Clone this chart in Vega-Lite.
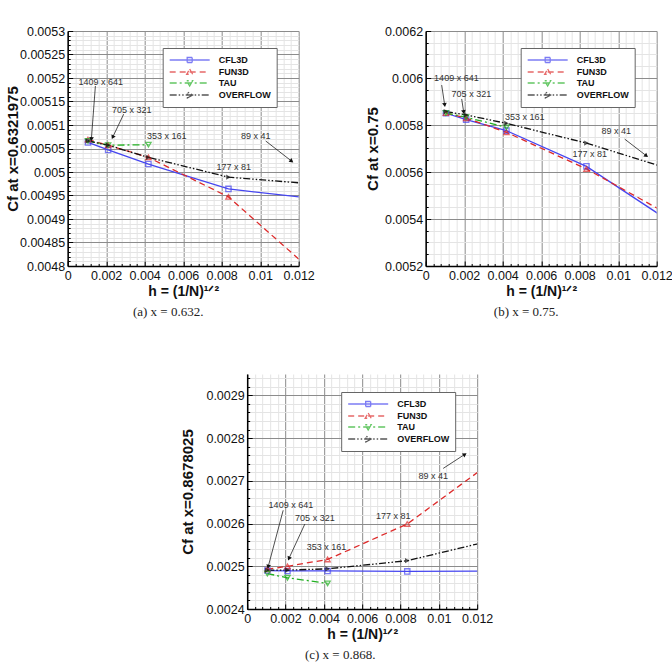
{
"$schema": "https://vega.github.io/schema/vega-lite/v6.json",
"background": "white",
"padding": {"left": 5.5, "top": 25, "right": 0, "bottom": 0},
"datasets": {
"cf": [
{"p":"a","code":"CFL3D","h":0.001052,"cf":0.005063},{"p":"a","code":"CFL3D","h":0.002102,"cf":0.005047},{"p":"a","code":"CFL3D","h":0.004195,"cf":0.005017},{"p":"a","code":"CFL3D","h":0.008352,"cf":0.004964},{"p":"a","code":"CFL3D","h":0.016554,"cf":0.004926},
{"p":"a","code":"FUN3D","h":0.001052,"cf":0.005069},{"p":"a","code":"FUN3D","h":0.002102,"cf":0.005057},{"p":"a","code":"FUN3D","h":0.004195,"cf":0.005031},{"p":"a","code":"FUN3D","h":0.008352,"cf":0.004947},{"p":"a","code":"FUN3D","h":0.016554,"cf":0.00465},
{"p":"a","code":"TAU","h":0.001052,"cf":0.005066},{"p":"a","code":"TAU","h":0.002102,"cf":0.005057},{"p":"a","code":"TAU","h":0.004195,"cf":0.005058},
{"p":"a","code":"OVERFLOW","h":0.001052,"cf":0.005066},{"p":"a","code":"OVERFLOW","h":0.002102,"cf":0.005057},{"p":"a","code":"OVERFLOW","h":0.004195,"cf":0.005031},{"p":"a","code":"OVERFLOW","h":0.008352,"cf":0.004989},{"p":"a","code":"OVERFLOW","h":0.016554,"cf":0.004962},
{"p":"b","code":"CFL3D","h":0.001052,"cf":0.00585},{"p":"b","code":"CFL3D","h":0.002102,"cf":0.005823},{"p":"b","code":"CFL3D","h":0.004195,"cf":0.005776},{"p":"b","code":"CFL3D","h":0.008352,"cf":0.005624},{"p":"b","code":"CFL3D","h":0.016554,"cf":0.005181},
{"p":"b","code":"FUN3D","h":0.001052,"cf":0.005851},{"p":"b","code":"FUN3D","h":0.002102,"cf":0.005829},{"p":"b","code":"FUN3D","h":0.004195,"cf":0.005769},{"p":"b","code":"FUN3D","h":0.008352,"cf":0.005613},{"p":"b","code":"FUN3D","h":0.016554,"cf":0.00524},
{"p":"b","code":"TAU","h":0.001052,"cf":0.005851},{"p":"b","code":"TAU","h":0.002102,"cf":0.005833},{"p":"b","code":"TAU","h":0.004195,"cf":0.00579},
{"p":"b","code":"OVERFLOW","h":0.001052,"cf":0.005857},{"p":"b","code":"OVERFLOW","h":0.002102,"cf":0.005843},{"p":"b","code":"OVERFLOW","h":0.004195,"cf":0.005807},{"p":"b","code":"OVERFLOW","h":0.008352,"cf":0.005723},{"p":"b","code":"OVERFLOW","h":0.016554,"cf":0.005514},
{"p":"c","code":"CFL3D","h":0.001052,"cf":0.00249},{"p":"c","code":"CFL3D","h":0.002102,"cf":0.002489},{"p":"c","code":"CFL3D","h":0.004195,"cf":0.002489},{"p":"c","code":"CFL3D","h":0.008352,"cf":0.002488},{"p":"c","code":"CFL3D","h":0.016554,"cf":0.002489},
{"p":"c","code":"FUN3D","h":0.001052,"cf":0.002493},{"p":"c","code":"FUN3D","h":0.002102,"cf":0.0025},{"p":"c","code":"FUN3D","h":0.004195,"cf":0.002516},{"p":"c","code":"FUN3D","h":0.008352,"cf":0.002599},{"p":"c","code":"FUN3D","h":0.016554,"cf":0.002869},
{"p":"c","code":"TAU","h":0.001052,"cf":0.002483},{"p":"c","code":"TAU","h":0.002102,"cf":0.002473},{"p":"c","code":"TAU","h":0.004195,"cf":0.00246},
{"p":"c","code":"OVERFLOW","h":0.001052,"cf":0.002491},{"p":"c","code":"OVERFLOW","h":0.002102,"cf":0.002491},{"p":"c","code":"OVERFLOW","h":0.004195,"cf":0.002494},{"p":"c","code":"OVERFLOW","h":0.008352,"cf":0.002513},{"p":"c","code":"OVERFLOW","h":0.016554,"cf":0.002601}
],
"ann": [
{"p":"a","t":"1409 x 641","h":0.001714,"cf":0.005191},{"p":"a","t":"705 x 321","h":0.003325,"cf":0.005132},{"p":"a","t":"353 x 161","h":0.005143,"cf":0.005077},{"p":"a","t":"89 x 41","h":0.009766,"cf":0.005077},{"p":"a","t":"177 x 81","h":0.008623,"cf":0.005011},
{"p":"b","t":"1409 x 641","h":0.001595,"cf":0.0060},{"p":"b","t":"705 x 321","h":0.002374,"cf":0.005932},{"p":"b","t":"353 x 161","h":0.005143,"cf":0.005834},{"p":"b","t":"89 x 41","h":0.009906,"cf":0.005774},{"p":"b","t":"177 x 81","h":0.00852,"cf":0.005677},
{"p":"c","t":"1409 x 641","h":0.00228,"cf":0.002643},{"p":"c","t":"705 x 321","h":0.003532,"cf":0.002612},{"p":"c","t":"353 x 161","h":0.004137,"cf":0.002544},{"p":"c","t":"177 x 81","h":0.007617,"cf":0.002618},{"p":"c","t":"89 x 41","h":0.009704,"cf":0.002711}
],
"arr": [
{"p":"a","h":0.001231,"cf":0.00507,"h2":0.001439,"cf2":0.005183},{"p":"a","h":0.002338,"cf":0.005074,"h2":0.002909,"cf2":0.005123},{"p":"a","h":0.011636,"cf":0.005023,"h2":0.010286,"cf2":0.005066},
{"p":"b","h":0.000987,"cf":0.005885,"h2":0.000831,"cf2":0.00597},{"p":"b","h":0.001974,"cf":0.005855,"h2":0.00187,"cf2":0.005911},{"p":"b","h":0.011465,"cf":0.005669,"h2":0.010338,"cf2":0.00574},
{"p":"c","h":0.001096,"cf":0.002499,"h2":0.001878,"cf2":0.002631},{"p":"c","h":0.002176,"cf":0.002518,"h2":0.00301,"cf2":0.002599},{"p":"c","h":0.011358,"cf":0.002762,"h2":0.010226,"cf2":0.002729}
]
},
"resolve": {"scale": {"color": "independent", "strokeDash": "independent", "shape": "independent"}},
"center": true,
"spacing": 53,
"vconcat": [
{
"hconcat": [
{
"width": 231, "height": 235,
"title": {"text": "(a) x = 0.632.", "dx": -15},
"encoding": {
"x": {"field": "h", "type": "quantitative", "scale": {"domain": [0, 0.012]}, "axis": {"values": [0,0.0004,0.0008,0.0012,0.0016,0.002,0.0024,0.0028,0.0032,0.0036,0.004,0.0044,0.0048,0.0052,0.0056,0.006,0.0064,0.0068,0.0072,0.0076,0.008,0.0084,0.0088,0.0092,0.0096,0.01,0.0104,0.0108,0.0112,0.0116,0.012], "title": "h = (1/N)¹ᐟ²", "labelExpr": "abs(datum.value*500-round(datum.value*500))<1e-6 ? format(datum.value,'.3~f') : ''", "gridColor": {"condition": {"test": "abs(datum.value*500-round(datum.value*500))<1e-6", "value": "#8c8c8c"}, "value": "#e4e4e4"}, "tickSize": {"condition": {"test": "abs(datum.value*500-round(datum.value*500))<1e-6", "value": -5}, "value": -2.5}, "labelPadding": 8, "titlePadding": 0}},
"y": {"field": "cf", "type": "quantitative", "scale": {"domain": [0.0048, 0.0053], "zero": false}, "axis": {"values": [0.0048,0.00481,0.00482,0.00483,0.00484,0.00485,0.00486,0.00487,0.00488,0.00489,0.0049,0.00491,0.00492,0.00493,0.00494,0.00495,0.00496,0.00497,0.00498,0.00499,0.005,0.00501,0.00502,0.00503,0.00504,0.00505,0.00506,0.00507,0.00508,0.00509,0.0051,0.00511,0.00512,0.00513,0.00514,0.00515,0.00516,0.00517,0.00518,0.00519,0.0052,0.00521,0.00522,0.00523,0.00524,0.00525,0.00526,0.00527,0.00528,0.00529,0.0053], "title": "Cf at x=0.6321975", "labelExpr": "abs(datum.value*20000-round(datum.value*20000))<1e-6 ? format(datum.value,'.5~f') : ''", "gridColor": {"condition": {"test": "abs(datum.value*20000-round(datum.value*20000))<1e-6", "value": "#8c8c8c"}, "value": "#e4e4e4"}, "tickSize": {"condition": {"test": "abs(datum.value*20000-round(datum.value*20000))<1e-6", "value": -5}, "value": -2.5}, "labelPadding": 8, "titlePadding": -1.5}}
},
"layer": [
{"data": {"name": "cf"}, "transform": [{"filter": "datum.p=='a' && datum.code=='CFL3D'"}], "mark": {"type": "line", "clip": true, "strokeWidth": 1.3, "color": "#4646f0"}},
{"data": {"name": "cf"}, "transform": [{"filter": "datum.p=='a' && datum.code=='FUN3D'"}], "mark": {"type": "line", "clip": true, "strokeWidth": 1.3, "color": "#dd2a2a", "strokeDash": [6,4]}},
{"data": {"name": "cf"}, "transform": [{"filter": "datum.p=='a' && datum.code=='TAU'"}], "mark": {"type": "line", "clip": true, "strokeWidth": 1.3, "color": "#22b022", "strokeDash": [7,3,2,3]}},
{"data": {"name": "cf"}, "transform": [{"filter": "datum.p=='a' && datum.code=='OVERFLOW'"}], "mark": {"type": "line", "clip": true, "strokeWidth": 1.3, "color": "#111111", "strokeDash": [7,2,1.5,2,1.5,2]}},
{"data": {"name": "cf"}, "transform": [{"filter": "datum.p=='a' && datum.code=='CFL3D'"}], "mark": {"type": "point", "shape": "square", "clip": true, "filled": false, "size": 28, "strokeWidth": 1.3, "color": "#4646f0"}},
{"data": {"name": "cf"}, "transform": [{"filter": "datum.p=='a' && datum.code=='FUN3D'"}], "mark": {"type": "point", "shape": "triangle-up", "clip": true, "filled": false, "size": 28, "strokeWidth": 1.3, "color": "#dd2a2a"}},
{"data": {"name": "cf"}, "transform": [{"filter": "datum.p=='a' && datum.code=='TAU'"}], "mark": {"type": "point", "shape": "triangle-down", "clip": true, "filled": false, "size": 28, "strokeWidth": 1.3, "color": "#22b022"}},
{"data": {"name": "cf"}, "transform": [{"filter": "datum.p=='a' && datum.code=='OVERFLOW'"}], "mark": {"type": "point", "shape": "triangle-right", "clip": true, "filled": true, "size": 28, "strokeWidth": 1.3, "color": "#111111"}},
{"data": {"name": "cf"}, "transform": [{"filter": "datum.p=='a' && datum.h>0.012"}], "mark": {"type": "point", "clip": true, "filled": false, "size": 100, "strokeWidth": 1.3}, "encoding": {
"color": {"field": "code", "type": "nominal", "scale": {"domain": ["CFL3D","FUN3D","TAU","OVERFLOW"], "range": ["#4646f0","#dd2a2a","#22b022","#111111"]}, "legend": {"title": null, "orient": "none", "legendX": 95, "legendY": 17}},
"strokeDash": {"field": "code", "type": "nominal", "scale": {"domain": ["CFL3D","FUN3D","TAU","OVERFLOW"], "range": [[1,0],[6,4],[7,3,2,3],[7,2,1.5,2,1.5,2]]}, "legend": {"title": null, "orient": "none", "legendX": 95, "legendY": 17}},
"shape": {"field": "code", "type": "nominal", "scale": {"domain": ["CFL3D","FUN3D","TAU","OVERFLOW"], "range": ["M-4,0H4M-0.5,-0.5H0.5V0.5H-0.5Z","M-4,0H4M0,-0.6L0.6,0.45H-0.6Z","M-4,0H4M0,0.6L0.6,-0.45H-0.6Z","M-4,0H4M0.6,0L-0.45,0.6V-0.6Z"]}, "legend": {"title": null, "orient": "none", "legendX": 95, "legendY": 17}}}},
{"data": {"name": "arr"}, "transform": [{"filter": "datum.p=='a'"}], "mark": {"type": "rule", "color": "#222", "strokeWidth": 0.8}, "encoding": {"x2": {"field": "h2"}, "y2": {"field": "cf2"}}},
{"data": {"name": "arr"}, "transform": [{"filter": "datum.p=='a'"}, {"calculate": "atan2((datum.h-datum.h2)*19250, (datum.cf-datum.cf2)*470000)*180/PI", "as": "ang"}], "mark": {"type": "point", "shape": "triangle-up", "filled": true, "color": "#111", "size": 22, "opacity": 1}, "encoding": {"angle": {"field": "ang", "type": "quantitative", "scale": null}}},
{"data": {"name": "ann"}, "transform": [{"filter": "datum.p=='a'"}], "mark": {"type": "text", "font": "Liberation Sans", "fontSize": 9, "color": "#333"}, "encoding": {"text": {"field": "t"}}}
]
},
{
"width": 231, "height": 235,
"title": {"text": "(b) x = 0.75.", "dx": -15},
"encoding": {
"x": {"field": "h", "type": "quantitative", "scale": {"domain": [0, 0.012]}, "axis": {"values": [0,0.0004,0.0008,0.0012,0.0016,0.002,0.0024,0.0028,0.0032,0.0036,0.004,0.0044,0.0048,0.0052,0.0056,0.006,0.0064,0.0068,0.0072,0.0076,0.008,0.0084,0.0088,0.0092,0.0096,0.01,0.0104,0.0108,0.0112,0.0116,0.012], "title": "h = (1/N)¹ᐟ²", "labelExpr": "abs(datum.value*500-round(datum.value*500))<1e-6 ? format(datum.value,'.3~f') : ''", "gridColor": {"condition": {"test": "abs(datum.value*500-round(datum.value*500))<1e-6", "value": "#8c8c8c"}, "value": "#e4e4e4"}, "tickSize": {"condition": {"test": "abs(datum.value*500-round(datum.value*500))<1e-6", "value": -5}, "value": -2.5}, "labelPadding": 8, "titlePadding": 0}},
"y": {"field": "cf", "type": "quantitative", "scale": {"domain": [0.0052, 0.0062], "zero": false}, "axis": {"values": [0.0052,0.00525,0.0053,0.00535,0.0054,0.00545,0.0055,0.00555,0.0056,0.00565,0.0057,0.00575,0.0058,0.00585,0.0059,0.00595,0.006,0.00605,0.0061,0.00615,0.0062], "title": "Cf at x=0.75", "labelExpr": "abs(datum.value*5000-round(datum.value*5000))<1e-6 ? format(datum.value,'.4~f') : ''", "gridColor": {"condition": {"test": "abs(datum.value*5000-round(datum.value*5000))<1e-6", "value": "#8c8c8c"}, "value": "#e4e4e4"}, "tickSize": {"condition": {"test": "abs(datum.value*5000-round(datum.value*5000))<1e-6", "value": -5}, "value": -2.5}, "labelPadding": 8, "titlePadding": 4}}
},
"layer": [
{"data": {"name": "cf"}, "transform": [{"filter": "datum.p=='b' && datum.code=='CFL3D'"}], "mark": {"type": "line", "clip": true, "strokeWidth": 1.3, "color": "#4646f0"}},
{"data": {"name": "cf"}, "transform": [{"filter": "datum.p=='b' && datum.code=='FUN3D'"}], "mark": {"type": "line", "clip": true, "strokeWidth": 1.3, "color": "#dd2a2a", "strokeDash": [6,4]}},
{"data": {"name": "cf"}, "transform": [{"filter": "datum.p=='b' && datum.code=='TAU'"}], "mark": {"type": "line", "clip": true, "strokeWidth": 1.3, "color": "#22b022", "strokeDash": [7,3,2,3]}},
{"data": {"name": "cf"}, "transform": [{"filter": "datum.p=='b' && datum.code=='OVERFLOW'"}], "mark": {"type": "line", "clip": true, "strokeWidth": 1.3, "color": "#111111", "strokeDash": [7,2,1.5,2,1.5,2]}},
{"data": {"name": "cf"}, "transform": [{"filter": "datum.p=='b' && datum.code=='CFL3D'"}], "mark": {"type": "point", "shape": "square", "clip": true, "filled": false, "size": 28, "strokeWidth": 1.3, "color": "#4646f0"}},
{"data": {"name": "cf"}, "transform": [{"filter": "datum.p=='b' && datum.code=='FUN3D'"}], "mark": {"type": "point", "shape": "triangle-up", "clip": true, "filled": false, "size": 28, "strokeWidth": 1.3, "color": "#dd2a2a"}},
{"data": {"name": "cf"}, "transform": [{"filter": "datum.p=='b' && datum.code=='TAU'"}], "mark": {"type": "point", "shape": "triangle-down", "clip": true, "filled": false, "size": 28, "strokeWidth": 1.3, "color": "#22b022"}},
{"data": {"name": "cf"}, "transform": [{"filter": "datum.p=='b' && datum.code=='OVERFLOW'"}], "mark": {"type": "point", "shape": "triangle-right", "clip": true, "filled": true, "size": 28, "strokeWidth": 1.3, "color": "#111111"}},
{"data": {"name": "cf"}, "transform": [{"filter": "datum.p=='b' && datum.h>0.012"}], "mark": {"type": "point", "clip": true, "filled": false, "size": 100, "strokeWidth": 1.3}, "encoding": {
"color": {"field": "code", "type": "nominal", "scale": {"domain": ["CFL3D","FUN3D","TAU","OVERFLOW"], "range": ["#4646f0","#dd2a2a","#22b022","#111111"]}, "legend": {"title": null, "orient": "none", "legendX": 95, "legendY": 17}},
"strokeDash": {"field": "code", "type": "nominal", "scale": {"domain": ["CFL3D","FUN3D","TAU","OVERFLOW"], "range": [[1,0],[6,4],[7,3,2,3],[7,2,1.5,2,1.5,2]]}, "legend": {"title": null, "orient": "none", "legendX": 95, "legendY": 17}},
"shape": {"field": "code", "type": "nominal", "scale": {"domain": ["CFL3D","FUN3D","TAU","OVERFLOW"], "range": ["M-4,0H4M-0.5,-0.5H0.5V0.5H-0.5Z","M-4,0H4M0,-0.6L0.6,0.45H-0.6Z","M-4,0H4M0,0.6L0.6,-0.45H-0.6Z","M-4,0H4M0.6,0L-0.45,0.6V-0.6Z"]}, "legend": {"title": null, "orient": "none", "legendX": 95, "legendY": 17}}}},
{"data": {"name": "arr"}, "transform": [{"filter": "datum.p=='b'"}], "mark": {"type": "rule", "color": "#222", "strokeWidth": 0.8}, "encoding": {"x2": {"field": "h2"}, "y2": {"field": "cf2"}}},
{"data": {"name": "arr"}, "transform": [{"filter": "datum.p=='b'"}, {"calculate": "atan2((datum.h-datum.h2)*19250, (datum.cf-datum.cf2)*235000)*180/PI", "as": "ang"}], "mark": {"type": "point", "shape": "triangle-up", "filled": true, "color": "#111", "size": 22, "opacity": 1}, "encoding": {"angle": {"field": "ang", "type": "quantitative", "scale": null}}},
{"data": {"name": "ann"}, "transform": [{"filter": "datum.p=='b'"}], "mark": {"type": "text", "font": "Liberation Sans", "fontSize": 9, "color": "#333"}, "encoding": {"text": {"field": "t"}}}
]
}
],
"spacing": 127,
"bounds": "flush",
"resolve": {"scale": {"color": "independent", "strokeDash": "independent", "shape": "independent"}}
},
{
"width": 230, "height": 235,
"title": {"text": "(c) x = 0.868.", "dx": -22},
"encoding": {
"x": {"field": "h", "type": "quantitative", "scale": {"domain": [0, 0.012]}, "axis": {"values": [0,0.0004,0.0008,0.0012,0.0016,0.002,0.0024,0.0028,0.0032,0.0036,0.004,0.0044,0.0048,0.0052,0.0056,0.006,0.0064,0.0068,0.0072,0.0076,0.008,0.0084,0.0088,0.0092,0.0096,0.01,0.0104,0.0108,0.0112,0.0116,0.012], "title": "h = (1/N)¹ᐟ²", "labelExpr": "abs(datum.value*500-round(datum.value*500))<1e-6 ? format(datum.value,'.3~f') : ''", "gridColor": {"condition": {"test": "abs(datum.value*500-round(datum.value*500))<1e-6", "value": "#8c8c8c"}, "value": "#e4e4e4"}, "tickSize": {"condition": {"test": "abs(datum.value*500-round(datum.value*500))<1e-6", "value": -5}, "value": -2.5}, "labelPadding": 8, "titlePadding": 0}},
"y": {"field": "cf", "type": "quantitative", "scale": {"domain": [0.0024, 0.00295], "zero": false, "nice": false}, "axis": {"values": [0.0024,0.00242,0.00244,0.00246,0.00248,0.0025,0.00252,0.00254,0.00256,0.00258,0.0026,0.00262,0.00264,0.00266,0.00268,0.0027,0.00272,0.00274,0.00276,0.00278,0.0028,0.00282,0.00284,0.00286,0.00288,0.0029,0.00292,0.00294], "title": "Cf at x=0.8678025", "labelExpr": "abs(datum.value*10000-round(datum.value*10000))<1e-6 ? format(datum.value,'.4~f') : ''", "gridColor": {"condition": {"test": "abs(datum.value*10000-round(datum.value*10000))<1e-6", "value": "#8c8c8c"}, "value": "#e4e4e4"}, "tickSize": {"condition": {"test": "abs(datum.value*10000-round(datum.value*10000))<1e-6", "value": -5}, "value": -2.5}, "labelPadding": 8, "titlePadding": 10}}
},
"layer": [
{"data": {"name": "cf"}, "transform": [{"filter": "datum.p=='c' && datum.code=='CFL3D'"}], "mark": {"type": "line", "clip": true, "strokeWidth": 1.3, "color": "#4646f0"}},
{"data": {"name": "cf"}, "transform": [{"filter": "datum.p=='c' && datum.code=='FUN3D'"}], "mark": {"type": "line", "clip": true, "strokeWidth": 1.3, "color": "#dd2a2a", "strokeDash": [6,4]}},
{"data": {"name": "cf"}, "transform": [{"filter": "datum.p=='c' && datum.code=='TAU'"}], "mark": {"type": "line", "clip": true, "strokeWidth": 1.3, "color": "#22b022", "strokeDash": [7,3,2,3]}},
{"data": {"name": "cf"}, "transform": [{"filter": "datum.p=='c' && datum.code=='OVERFLOW'"}], "mark": {"type": "line", "clip": true, "strokeWidth": 1.3, "color": "#111111", "strokeDash": [7,2,1.5,2,1.5,2]}},
{"data": {"name": "cf"}, "transform": [{"filter": "datum.p=='c' && datum.code=='CFL3D'"}], "mark": {"type": "point", "shape": "square", "clip": true, "filled": false, "size": 28, "strokeWidth": 1.3, "color": "#4646f0"}},
{"data": {"name": "cf"}, "transform": [{"filter": "datum.p=='c' && datum.code=='FUN3D'"}], "mark": {"type": "point", "shape": "triangle-up", "clip": true, "filled": false, "size": 28, "strokeWidth": 1.3, "color": "#dd2a2a"}},
{"data": {"name": "cf"}, "transform": [{"filter": "datum.p=='c' && datum.code=='TAU'"}], "mark": {"type": "point", "shape": "triangle-down", "clip": true, "filled": false, "size": 28, "strokeWidth": 1.3, "color": "#22b022"}},
{"data": {"name": "cf"}, "transform": [{"filter": "datum.p=='c' && datum.code=='OVERFLOW'"}], "mark": {"type": "point", "shape": "triangle-right", "clip": true, "filled": true, "size": 28, "strokeWidth": 1.3, "color": "#111111"}},
{"data": {"name": "cf"}, "transform": [{"filter": "datum.p=='c' && datum.h>0.012"}], "mark": {"type": "point", "clip": true, "filled": false, "size": 100, "strokeWidth": 1.3}, "encoding": {
"color": {"field": "code", "type": "nominal", "scale": {"domain": ["CFL3D","FUN3D","TAU","OVERFLOW"], "range": ["#4646f0","#dd2a2a","#22b022","#111111"]}, "legend": {"title": null, "orient": "none", "legendX": 94, "legendY": 18}},
"strokeDash": {"field": "code", "type": "nominal", "scale": {"domain": ["CFL3D","FUN3D","TAU","OVERFLOW"], "range": [[1,0],[6,4],[7,3,2,3],[7,2,1.5,2,1.5,2]]}, "legend": {"title": null, "orient": "none", "legendX": 94, "legendY": 18}},
"shape": {"field": "code", "type": "nominal", "scale": {"domain": ["CFL3D","FUN3D","TAU","OVERFLOW"], "range": ["M-4,0H4M-0.5,-0.5H0.5V0.5H-0.5Z","M-4,0H4M0,-0.6L0.6,0.45H-0.6Z","M-4,0H4M0,0.6L0.6,-0.45H-0.6Z","M-4,0H4M0.6,0L-0.45,0.6V-0.6Z"]}, "legend": {"title": null, "orient": "none", "legendX": 94, "legendY": 18}}}},
{"data": {"name": "arr"}, "transform": [{"filter": "datum.p=='c'"}], "mark": {"type": "rule", "color": "#222", "strokeWidth": 0.8}, "encoding": {"x2": {"field": "h2"}, "y2": {"field": "cf2"}}},
{"data": {"name": "arr"}, "transform": [{"filter": "datum.p=='c'"}, {"calculate": "atan2((datum.h-datum.h2)*19167, (datum.cf-datum.cf2)*427273)*180/PI", "as": "ang"}], "mark": {"type": "point", "shape": "triangle-up", "filled": true, "color": "#111", "size": 22, "opacity": 1}, "encoding": {"angle": {"field": "ang", "type": "quantitative", "scale": null}}},
{"data": {"name": "ann"}, "transform": [{"filter": "datum.p=='c'"}], "mark": {"type": "text", "font": "Liberation Sans", "fontSize": 9, "color": "#333"}, "encoding": {"text": {"field": "t"}}}
]
}
],
"config": {
"view": {"stroke": null},
"font": "Liberation Sans",
"axis": {"domainColor": "#000", "domainWidth": 1.5, "tickColor": "#000", "tickWidth": 1, "labelFont": "Liberation Sans", "labelFontSize": 12.5, "labelColor": "#111", "titleFont": "Liberation Sans", "titleFontSize": 14, "titleFontWeight": "bold", "titleColor": "#111", "labelOverlap": false, "labelFlush": false, "labelBound": false, "gridWidth": 1, "gridOpacity": 1},
"axisY": {"titleFontSize": 15},
"legend": {"fillColor": "white", "strokeColor": "#666", "padding": 6, "labelFont": "Liberation Sans", "labelFontSize": 9, "labelFontWeight": "bold", "labelColor": "#111", "symbolSize": 100, "symbolStrokeWidth": 1.3, "symbolOffset": 15, "labelOffset": 23, "rowPadding": -1, "symbolFillColor": "transparent"},
"title": {"font": "Liberation Serif", "fontSize": 13, "fontWeight": "normal", "color": "#222", "orient": "bottom", "offset": 8}
}
}
